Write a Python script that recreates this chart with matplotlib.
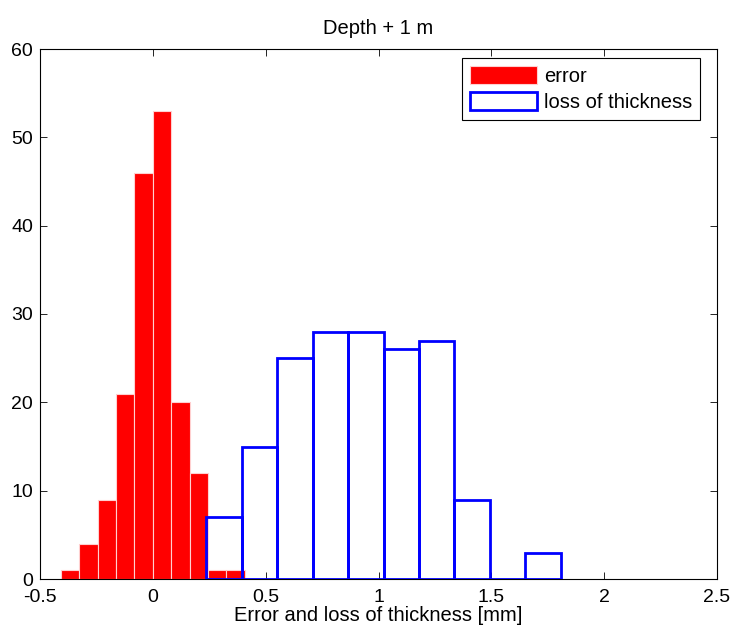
import numpy as np
import matplotlib
matplotlib.use("Agg")
import matplotlib.pyplot as plt

plt.rcParams['font.family'] = ['Liberation Sans', 'DejaVu Sans']

## DATA
err_centers = [-0.366, -0.285, -0.203, -0.122, -0.041, 0.041, 0.122, 0.204, 0.285, 0.366]
err_counts = [1, 4, 9, 21, 46, 53, 20, 12, 1, 1]
err_width = 0.0815

loss_centers = [0.315, 0.472, 0.630, 0.787, 0.944, 1.101, 1.258, 1.415, 1.572, 1.729]
loss_counts = [7, 15, 25, 28, 28, 26, 27, 9, 0, 3]
loss_width = 0.157

xticks = [-0.5, 0, 0.5, 1, 1.5, 2, 2.5]
xticklabels = ['-0.5', '0', '0.5', '1', '1.5', '2', '2.5']
yticks = [0, 10, 20, 30, 40, 50, 60]
##########

W, H = 731, 633

fig = plt.figure(figsize=(W / 100, H / 100), dpi=100)
ax = fig.add_axes([40 / W, 1 - 579 / H, (717 - 40) / W, (579 - 49) / H])

ax.bar(err_centers, err_counts, width=err_width, color='#ff0000',
       edgecolor='#ffd0d0', linewidth=0.8, label='error', zorder=2)
ax.bar(loss_centers, loss_counts, width=loss_width, facecolor='none',
       edgecolor='#0000ff', linewidth=2.0, label='loss of thickness', zorder=3)

ax.set_xlim(-0.5, 2.5)
ax.set_ylim(0, 60)
ax.set_xticks(xticks)
ax.set_xticklabels(xticklabels)
ax.set_yticks(yticks)
ax.tick_params(direction='in', top=True, right=True, labelsize=14, length=5, width=0.6)
ax.tick_params(axis='x', pad=7)
ax.tick_params(axis='y', pad=5)
for s in ax.spines.values():
    s.set_linewidth(0.8)

ax.set_title('Depth + 1 m', fontsize=14.5, pad=11)
ax.set_xlabel('Error and loss of thickness [mm]', fontsize=14.5, labelpad=0)

leg = ax.legend(loc='upper right', bbox_to_anchor=(700 / W, 1 - 58 / H),
                bbox_transform=fig.transFigure, borderaxespad=0,
                fontsize=14.5, handlelength=3.3, handleheight=1.0,
                handletextpad=0.35, fancybox=False, framealpha=1,
                edgecolor='black', labelspacing=0.3, borderpad=0.4)
leg.get_frame().set_linewidth(0.8)

plt.savefig('out.png', dpi=100)
